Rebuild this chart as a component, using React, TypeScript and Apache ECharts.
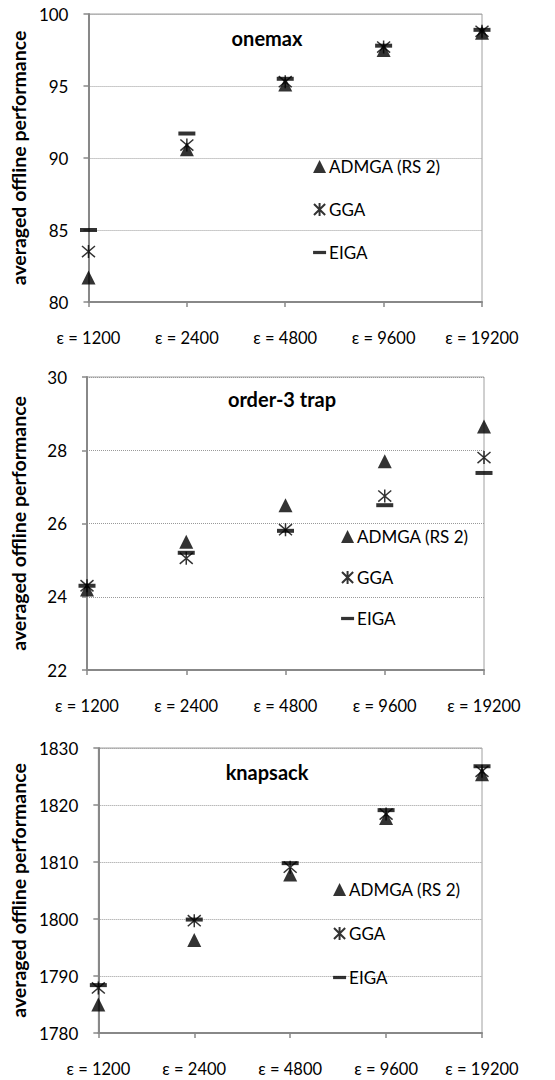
import React, { useEffect, useRef } from "react";
import * as echarts from "echarts";

// Budget settings shared by the three panels
const epsLabels = ["ε = 1200", "ε = 2400", "ε = 4800", "ε = 9600", "ε = 19200"];
const seriesNames = ["ADMGA (RS 2)", "GGA", "EIGA"];
const panelTitles = ["onemax", "order-3 trap", "knapsack"];

// onemax
const onemaxADMGA = [81.7, 90.6, 95.1, 97.5, 98.7];
const onemaxGGA = [83.5, 90.9, 95.3, 97.7, 98.8];
const onemaxEIGA = [85.0, 91.7, 95.5, 97.8, 98.9];

// order-3 trap
const trapADMGA = [24.2, 25.5, 26.5, 27.7, 28.65];
const trapGGA = [24.3, 25.05, 25.83, 26.75, 27.8];
const trapEIGA = [24.3, 25.2, 25.8, 26.5, 27.38];

// knapsack
const knapADMGA = [1785.0, 1796.3, 1807.8, 1817.7, 1825.4];
const knapGGA = [1787.9, 1799.7, 1809.1, 1818.4, 1825.9];
const knapEIGA = [1788.4, 1799.9, 1809.8, 1819.1, 1826.8];

// y-axis ranges [min, max, interval]
const yRanges = [
  [80, 100, 5],
  [22, 30, 2],
  [1780, 1830, 10],
];

const FONT = "Lato, 'Open Sans', sans-serif";
const STAR = "path://M0,0L12,12M12,0L0,12M6,-1L6,13";
const DASH = "path://M0,0H16V4H0Z";

const grids = [
  { left: 84, top: 14, width: 398, height: 288 },
  { left: 87, top: 377, width: 397, height: 293 },
  { left: 90, top: 748, width: 392, height: 285 },
];
const legendPos = [
  { left: 313, top: 158, itemGap: 26 },
  { left: 341, top: 528, itemGap: 24 },
  { left: 333, top: 881, itemGap: 27 },
];
const titlePos = [
  { x: 267, y: 38 },
  { x: 282, y: 399 },
  { x: 267, y: 772 },
];
const nameGaps = [59, 59, 65];

export default function App() {
  const ref = useRef<HTMLDivElement>(null);

  useEffect(() => {
    if (!ref.current) return;
    const chart = echarts.init(ref.current, undefined, { renderer: "svg" });

    const panelData = [
      [onemaxADMGA, onemaxGGA, onemaxEIGA],
      [trapADMGA, trapGGA, trapEIGA],
      [knapADMGA, knapGGA, knapEIGA],
    ];

    const series: any[] = [];
    panelData.forEach((sets, gi) => {
      series.push({
        type: "scatter",
        name: seriesNames[0],
        xAxisIndex: gi,
        yAxisIndex: gi,
        data: sets[0],
        symbol: "triangle",
        symbolSize: 14,
        clip: false,
        itemStyle: { color: "#000" },
        z: 3,
      });
      series.push({
        type: "scatter",
        name: seriesNames[1],
        xAxisIndex: gi,
        yAxisIndex: gi,
        data: sets[1],
        symbol: STAR,
        symbolSize: 13,
        clip: false,
        itemStyle: { color: "#000", borderColor: "#000", borderWidth: 1.5 },
        z: 4,
      });
      series.push({
        type: "scatter",
        name: seriesNames[2],
        xAxisIndex: gi,
        yAxisIndex: gi,
        data: sets[2],
        symbol: "rect",
        symbolSize: [17, 4],
        clip: false,
        itemStyle: { color: "#000" },
        z: 5,
      });
    });

    const option: any = {
      animation: false,
      backgroundColor: "#fff",
      textStyle: { fontFamily: FONT },
      grid: grids.map((g) => ({
        ...g,
        show: true,
        borderColor: "#a0a0a0",
        borderWidth: 1,
        backgroundColor: "transparent",
      })),
      xAxis: grids.map((_, i) => ({
        type: "category",
        gridIndex: i,
        data: epsLabels,
        boundaryGap: false,
        axisLine: { show: true, lineStyle: { color: "#888", width: 2 } },
        axisTick: { show: true, length: 5, lineStyle: { color: "#888", width: 1.5 } },
        axisLabel: {
          color: "#000",
          fontSize: 16.5,
          fontFamily: FONT,
          margin: 27,
          interval: 0,
        },
        splitLine: { show: false },
      })),
      yAxis: yRanges.map((r, i) => ({
        type: "value",
        gridIndex: i,
        min: r[0],
        max: r[1],
        interval: r[2],
        name: "averaged offline performance",
        nameLocation: "middle",
        nameGap: nameGaps[i],
        nameTextStyle: { color: "#000", fontSize: 19.5, fontWeight: "bold", fontFamily: FONT },
        axisLine: { show: true, lineStyle: { color: "#888", width: 2 } },
        axisTick: { show: true, length: 5, lineStyle: { color: "#888", width: 1.5 } },
        axisLabel: {
          color: "#000",
          fontSize: 17,
          fontFamily: FONT,
          margin: 20,
          formatter: (v: number) => String(v),
        },
        splitLine: { show: true, lineStyle: { color: "#999", type: "dotted", width: 1 } },
      })),
      legend: legendPos.map((p) => ({
        orient: "vertical",
        left: p.left,
        top: p.top,
        itemGap: p.itemGap,
        itemWidth: 13,
        itemHeight: 13,
        padding: 0,
        selectedMode: false,
        textStyle: { color: "#000", fontSize: 17, fontFamily: FONT, padding: [0, 0, 0, -2] },
        data: [
          { name: seriesNames[0], icon: "triangle" },
          { name: seriesNames[1], icon: STAR },
          { name: seriesNames[2], icon: DASH },
        ],
      })),
      graphic: titlePos.map((p, i) => ({
        type: "text",
        x: p.x,
        y: p.y,
        style: {
          text: panelTitles[i],
          font: `bold 20px ${FONT}`,
          fill: "#000",
          align: "center",
          verticalAlign: "middle",
          textAlign: "center",
          textVerticalAlign: "middle",
        },
      })),
      series,
    };

    chart.setOption(option);
    return () => chart.dispose();
  }, []);

  return (
    <div
      ref={ref}
      style={{ position: "fixed", left: 0, top: 0, width: 555, height: 1080, background: "#fff" }}
    />
  );
}
